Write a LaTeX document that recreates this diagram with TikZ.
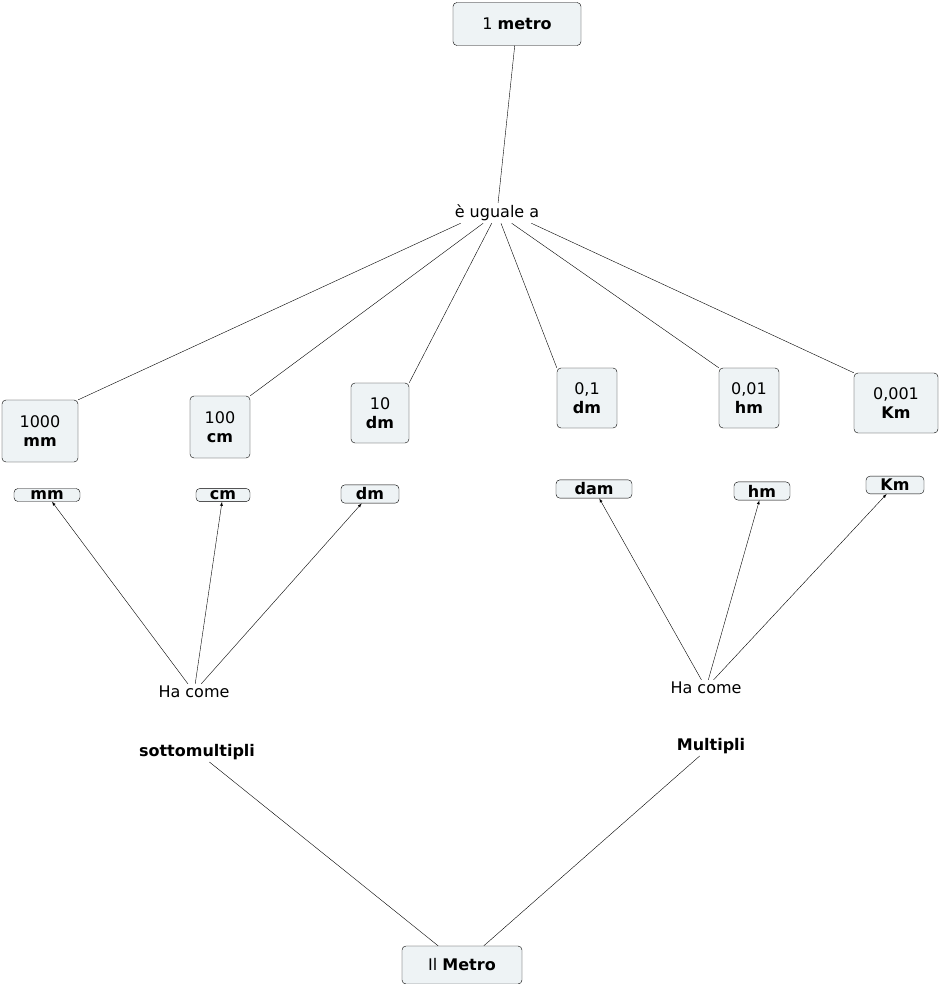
\documentclass[tikz,border=0pt]{standalone}
\usepackage{fontspec}
\setmainfont{DejaVu Sans}
\begin{document}
\begin{tikzpicture}[x=1pt,y=-1pt,
 box/.style={draw,rounded corners=4pt,fill=boxfill,align=center,inner sep=4pt,font=\fontsize{16}{19}\selectfont},
 lab/.style={align=center,inner sep=2pt,font=\fontsize{16}{19}\selectfont},
 arr/.style={-latex}]
\definecolor{boxfill}{HTML}{EEF3F5}
\useasboundingbox (0,0) rectangle (940,984);
\node[box,minimum width=128,minimum height=43] (m) at (517,24) {1 \textbf{metro}};
\node[lab] (eu) at (497,213) {è uguale a};
\node[box,minimum width=76,minimum height=62] (a1) at (40,431) {1000\\\textbf{mm}};
\node[box,minimum width=60,minimum height=62] (a2) at (220,427) {100\\\textbf{cm}};
\node[box,minimum width=58,minimum height=60] (a3) at (380,413) {10\\\textbf{dm}};
\node[box,minimum width=60,minimum height=60] (a4) at (587,398) {0,1\\\textbf{dm}};
\node[box,minimum width=60,minimum height=60] (a5) at (749,398) {0,01\\\textbf{hm}};
\node[box,minimum width=84,minimum height=60] (a6) at (896,403) {0,001\\\textbf{Km}};
\node[box,minimum width=66,inner sep=2pt] (u1) at (47,495) {\textbf{mm}};
\node[box,minimum width=54,inner sep=2pt] (u2) at (223,495) {\textbf{cm}};
\node[box,minimum width=58,inner sep=3pt] (u3) at (370,494) {\textbf{dm}};
\node[box,minimum width=76,inner sep=3pt] (u4) at (594,489) {\textbf{dam}};
\node[box,minimum width=56,inner sep=3pt] (u5) at (762,491) {\textbf{hm}};
\node[box,minimum width=58,inner sep=3pt] (u6) at (895,485) {\textbf{Km}};
\node[lab] (h1) at (194,692) {Ha come};
\node[lab] (s1) at (197,752) {\textbf{sottomultipli}};
\node[lab] (h2) at (706,688) {Ha come};
\node[lab] (s2) at (711,746) {\textbf{Multipli}};
\node[box,minimum width=120,minimum height=38] (il) at (462,965) {Il \textbf{Metro}};
\draw (m) -- (eu);
\draw (eu.south west) ++(8,0) coordinate (e1) (e1) -- (a1.north east);
\draw (eu) -- (a2.north east);
\draw (eu) -- (a3.north east);
\draw (eu) -- (a4.north west);
\draw (eu) -- (a5.north west);
\draw (eu.south east) ++(-10,0) coordinate (e6) (e6) -- (a6.north west);
\draw[arr] (h1) -- (u1);
\draw[arr] (h1) -- (u2);
\draw[arr] (h1) -- (u3);
\draw[arr] (h2) -- (u4);
\draw[arr] (h2) -- (u5);
\draw[arr] (h2) -- (u6);
\draw (il) -- (s1);
\draw (il) -- (s2);
\end{tikzpicture}
\end{document}
